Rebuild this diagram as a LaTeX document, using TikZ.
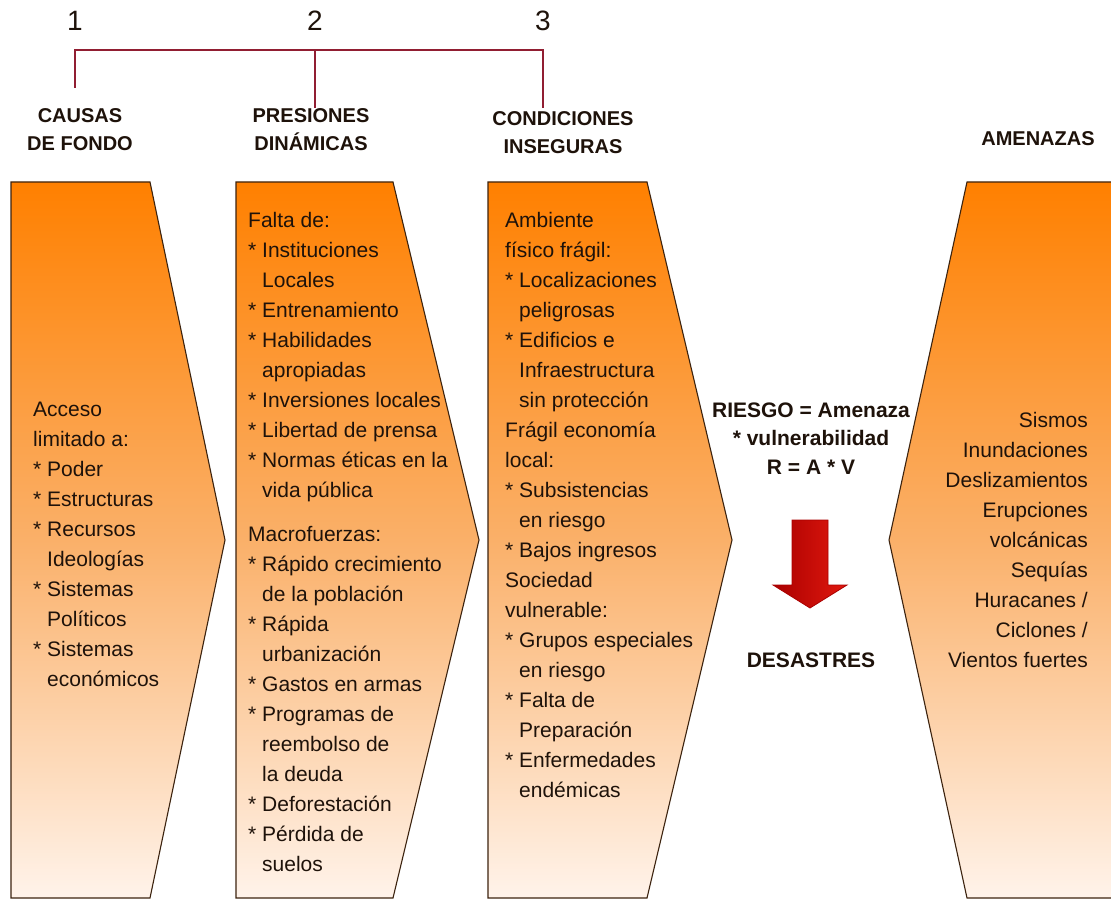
\documentclass[tikz,border=0pt]{standalone}
\usepackage{fontspec}
\setmainfont{Liberation Sans}
\definecolor{orTop}{RGB}{255,128,0}
\definecolor{orMid}{RGB}{250,176,105}
\definecolor{orBot}{RGB}{255,243,234}
\definecolor{edge}{RGB}{60,35,15}
\definecolor{txt}{RGB}{30,18,10}
\definecolor{brk}{RGB}{145,30,50}
\definecolor{redA}{RGB}{170,0,0}
\definecolor{redB}{RGB}{225,25,15}
\newcommand{\ind}{\hphantom{*\ }}
\begin{document}
\begin{tikzpicture}[x=1pt,y=-1pt,
  shapebox/.style={draw=edge, line width=1.1pt, top color=orTop, bottom color=orBot, middle color=orMid},
  body/.style={font=\fontsize{21}{30}\selectfont, text=txt, inner sep=0pt, align=left, anchor=base west},
  bodyr/.style={font=\fontsize{21}{30}\selectfont, text=txt, inner sep=0pt, align=right, anchor=base east},
  mid/.style={font=\bfseries\fontsize{21}{28.5}\selectfont, text=txt, inner sep=0pt, align=center, anchor=base},
  head/.style={font=\bfseries\fontsize{20}{28}\selectfont, text=txt, inner sep=0pt, align=center, anchor=base},
  num/.style={font=\fontsize{28}{30}\selectfont, text=txt, inner sep=0pt, anchor=base},
  bracket/.style={draw=brk, line width=1.8pt},
  redarrow/.style={draw=redA, line width=0.8pt, left color=redA, right color=redB}]
\useasboundingbox (0,0) rectangle (1111,901);
\fill[white] (0,0) rectangle (1111,901);

% numbers and bracket
\node[num] (n1) at (75,31) {1};
\node[num] (n2) at (315,31) {2};
\node[num] (n3) at (543,31) {3};
\coordinate (b1t) at (75,50);  \coordinate (b1b) at (75,88);
\coordinate (b2t) at (315,50); \coordinate (b2b) at (315,108);
\coordinate (b3t) at (543,50); \coordinate (b3b) at (543,108);
\draw[bracket] (b1b) -- (b1t) -- (b3t) -- (b3b);
\draw[bracket] (b2t) -- (b2b);

% headers (anchor = baseline of last line)
\node[head] (h1) at (80,151) {CAUSAS\\DE FONDO};
\node[head] (h2) at (311,151) {PRESIONES\\DINÁMICAS};
\node[head] (h3) at (563,154) {CONDICIONES\\INSEGURAS};
\node[head] (h4) at (1038,146) {AMENAZAS};

% arrow shapes
\path[shapebox] (11,182) -- (150,182) -- (225,540) -- (150,898) -- (11,898) -- cycle;
\path[shapebox] (236,182) -- (393,182) -- (479,540) -- (393,898) -- (236,898) -- cycle;
\path[shapebox] (488,182) -- (647,182) -- (732,540) -- (647,898) -- (488,898) -- cycle;
\path[shapebox] (967,182) -- (1125,182) -- (1125,898) -- (967,898) -- (889,540) -- cycle;

% texts (anchor = baseline of last line)
\node[body] (t1) at (33,686) {Acceso\\limitado a:\\* Poder\\* Estructuras\\* Recursos\\\ind Ideologías\\* Sistemas\\\ind Políticos\\* Sistemas\\\ind económicos};

\node[body] (t2) at (248,871) {Falta de:\\* Instituciones\\\ind Locales\\* Entrenamiento\\* Habilidades\\\ind apropiadas\\* Inversiones locales\\* Libertad de prensa\\* Normas éticas en la\\\ind vida pública\\[14pt]
Macrofuerzas:\\* Rápido crecimiento\\\ind de la población\\* Rápida\\\ind urbanización\\* Gastos en armas\\* Programas de\\\ind reembolso de\\\ind la deuda\\* Deforestación\\* Pérdida de\\\ind suelos};

\node[body] (t3) at (505,797) {Ambiente\\físico frágil:\\* Localizaciones\\\ind peligrosas\\* Edificios e\\\ind Infraestructura\\\ind sin protección\\Frágil economía\\local:\\* Subsistencias\\\ind en riesgo\\* Bajos ingresos\\Sociedad\\vulnerable:\\* Grupos especiales\\\ind en riesgo\\* Falta de\\\ind Preparación\\* Enfermedades\\\ind endémicas};

\node[bodyr] (t4) at (1088,667) {Sismos\\Inundaciones\\Deslizamientos\\Erupciones\\volcánicas\\Sequías\\Huracanes /\\Ciclones /\\Vientos fuertes};

% middle
\node[mid] (riesgo) at (811,474) {RIESGO = Amenaza\\* vulnerabilidad\\R = A * V};
\node[mid] (desastres) at (811,667) {DESASTRES};
\draw[redarrow] (792,520) -- (828,520) -- (828,585) -- (847,585) -- (810,608) -- (773,585) -- (792,585) -- cycle;
\end{tikzpicture}
\end{document}
